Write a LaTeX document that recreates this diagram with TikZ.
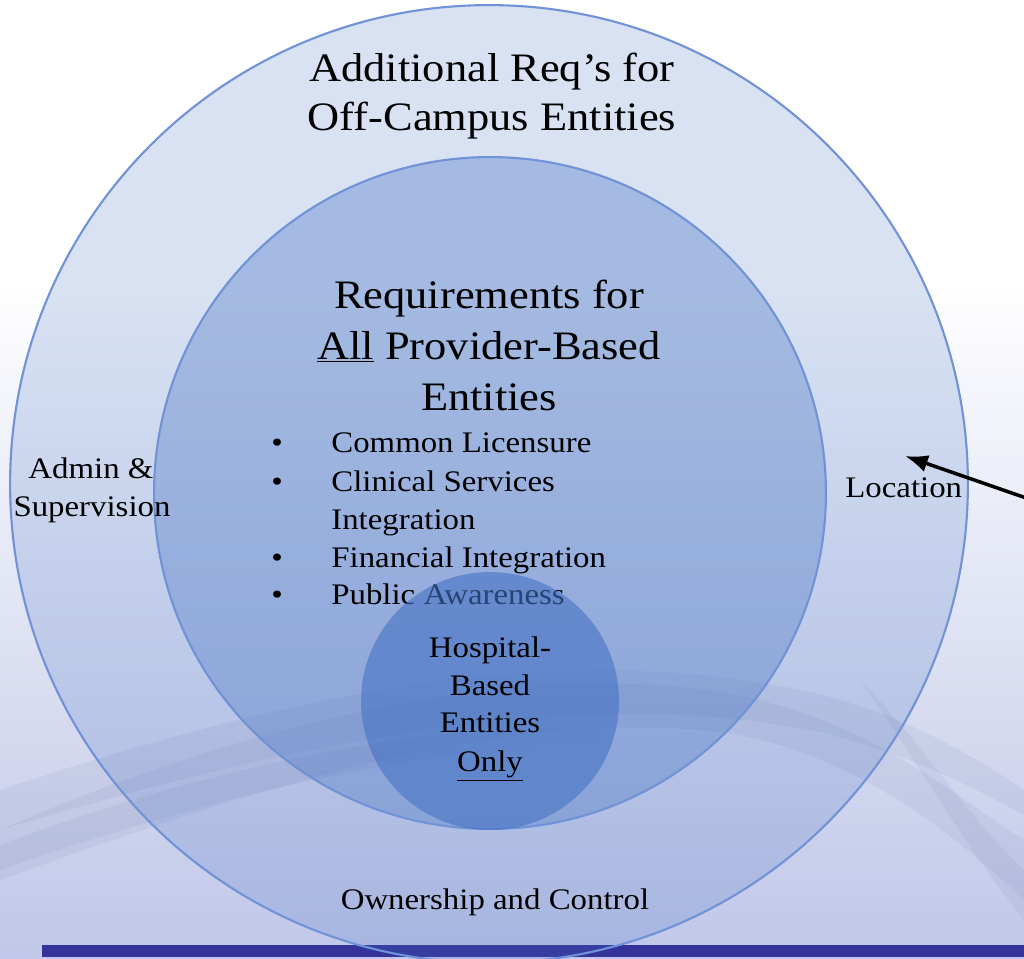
\documentclass[tikz,border=0pt]{standalone}
\usepackage{fontspec}
\setmainfont{Liberation Serif}[FakeStretch=1.1]
\usetikzlibrary{arrows.meta}
\definecolor{ringblue}{RGB}{68,114,196}
\definecolor{edgeblue}{RGB}{112,146,214}
\definecolor{barblue}{RGB}{51,51,153}
\definecolor{bgblue}{RGB}{192,199,232}
\definecolor{wavegray}{RGB}{120,130,175}
\tikzset{
  big/.style={font=\fontsize{23}{28}\selectfont, inner sep=0pt},
  small/.style={font=\fontsize{17}{21}\selectfont, inner sep=0pt},
  ring/.style={draw=edgeblue, line width=1.2pt},
  wave/.style={fill=wavegray, fill opacity=0.11, draw=none},
  pointer/.style={draw=black, line width=2pt, -{Latex[length=13pt,width=10pt]}}
}
\begin{document}
\begin{tikzpicture}[x=0.02cm,y=-0.02cm]
\useasboundingbox (0,0) rectangle (1024,958);
% background
\fill[white] (0,0) rectangle (1024,958);
\shade[top color=white, bottom color=bgblue] (0,280) rectangle (1024,958);
% waves
\fill[wave] (0,830) .. controls (250,720) and (550,650) .. (760,700) .. controls (880,730) and (960,800) .. (1024,840)
  -- (1024,900) .. controls (950,830) and (860,760) .. (740,735) .. controls (520,700) and (250,790) .. (0,880) -- cycle;
\fill[wave] (0,790) .. controls (300,690) and (560,640) .. (800,690) .. controls (900,710) and (980,760) .. (1024,790)
  -- (1024,815) .. controls (960,780) and (880,740) .. (780,725) .. controls (560,690) and (300,740) .. (0,830) -- cycle;
\fill[wave] (0,845) .. controls (200,770) and (420,720) .. (600,730) -- (600,745) .. controls (420,745) and (200,800) .. (0,870) -- cycle;
\fill[wave] (860,680) .. controls (920,740) and (970,820) .. (1024,870) -- (1024,920) .. controls (960,840) and (910,750) .. (860,680) -- cycle;
% bottom bar
\fill[barblue] (42,945) rectangle (1024,957);
% outer circle
\fill[ringblue, fill opacity=0.2] (489,484) circle[radius=9.58cm];
\draw[ring] (489,484) circle[radius=9.58cm];
% middle circle
\fill[ringblue, fill opacity=0.35] (490,493) circle[radius=6.72cm];
\draw[ring] (490,493) circle[radius=6.72cm];
% outer labels
\node[big, anchor=base] (t1) at (492,81) {Additional Req’s for};
\node[big, anchor=base] (t2) at (492,130) {Off-Campus Entities};
\node[small, anchor=base] (adm1) at (91,478) {Admin \&};
\node[small, anchor=base] (adm2) at (92,516) {Supervision};
\node[small, anchor=base west] (loc) at (845,497) {Location};
\node[small, anchor=base] (own) at (495,909) {Ownership and Control};
% middle labels
\node[big, anchor=base] (r1) at (489,308) {Requirements for};
\node[big, anchor=base] (r2) at (489,359) {\underline{All} Provider-Based};
\node[big, anchor=base] (r3) at (489,410) {Entities};
\node[small, anchor=base] (b1) at (277,452) {•};
\node[small, anchor=base west] (l1) at (331,452) {Common Licensure};
\node[small, anchor=base] (b2) at (277,491) {•};
\node[small, anchor=base west] (l2) at (331,491) {Clinical Services};
\node[small, anchor=base west] (l2b) at (331,529) {Integration};
\node[small, anchor=base] (b3) at (277,567) {•};
\node[small, anchor=base west] (l3) at (331,567) {Financial Integration};
\node[small, anchor=base] (b4) at (277,604) {•};
\node[small, anchor=base west] (l4) at (331,604) {Public Awareness};
% small circle (over the text)
\fill[ringblue, fill opacity=0.6] (490,701) circle[radius=2.58cm];
\node[small, anchor=base] (h1) at (490,657) {Hospital-};
\node[small, anchor=base] (h2) at (490,695) {Based};
\node[small, anchor=base] (h3) at (490,732) {Entities};
\node[small, anchor=base] (h4) at (490,771) {\underline{Only}};
% arrow
\coordinate (arrowfree) at (1032,500);
\coordinate (loctarget) at (905,456);
\draw[pointer] (arrowfree) -- (loctarget);
\end{tikzpicture}
\end{document}
